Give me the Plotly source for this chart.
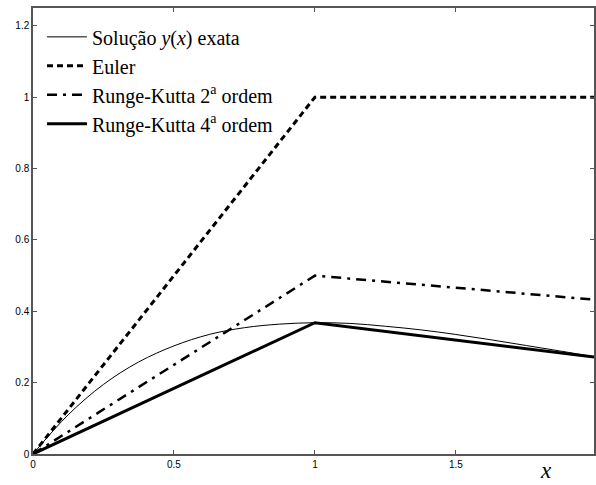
import plotly.graph_objects as go

# Grid of step h = 1 used by the numerical methods
x_steps = [0.0, 1.0, 2.0]
y_euler = [0.0, 1.0, 1.0]
y_rk2 = [0.0, 0.5, 0.432]
y_rk4 = [0.0, 0.368, 0.271]

# Exact solution sampled along the interval
x_exact = [0.0, 0.125, 0.25, 0.375, 0.5, 0.625, 0.75, 0.875, 1.0,
           1.125, 1.25, 1.375, 1.5, 1.625, 1.75, 1.875, 2.0]
y_exact = [0.0, 0.110, 0.195, 0.258, 0.303, 0.335, 0.354, 0.364, 0.368,
           0.366, 0.358, 0.348, 0.335, 0.320, 0.304, 0.288, 0.271]

x_ticks = [0, 0.5, 1, 1.5]
y_ticks = [0, 0.2, 0.4, 0.6, 0.8, 1, 1.2]

SERIF = "Liberation Serif"

fig = go.Figure()
fig.add_trace(go.Scatter(x=x_exact, y=y_exact, mode="lines", line_shape="spline",
                         name="Solução <i>y</i>(<i>x</i>) exata",
                         line=dict(color="black", width=1)))
fig.add_trace(go.Scatter(x=x_steps, y=y_euler, mode="lines", name="Euler",
                         line=dict(color="black", width=3, dash="6px,4px")))
fig.add_trace(go.Scatter(x=x_steps, y=y_rk2, mode="lines",
                         name="Runge-Kutta 2<sup>a</sup> ordem",
                         line=dict(color="black", width=2.5, dash="10px,6px,3px,6px")))
fig.add_trace(go.Scatter(x=x_steps, y=y_rk4, mode="lines",
                         name="Runge-Kutta 4<sup>a</sup> ordem",
                         line=dict(color="black", width=3)))

axis_common = dict(showgrid=False, zeroline=False, showline=True, mirror="ticks",
                   linecolor="#555", linewidth=1.5, ticks="inside", ticklen=4,
                   tickcolor="#555", tickfont=dict(family="Liberation Sans", size=10, color="black"))

fig.update_xaxes(range=[0, 1.99], tickvals=x_ticks, ticktext=["0", "0.5", "1", "1.5"], **axis_common)
fig.update_yaxes(range=[0, 1.25], tickvals=y_ticks, ticktext=["0", "0.2", "0.4", "0.6", "0.8", "1", "1.2"], **axis_common)

fig.add_annotation(text="<i>x</i>", xref="paper", yref="paper", x=0.915, y=-0.0695,
                   xanchor="center", yanchor="bottom", showarrow=False,
                   font=dict(family=SERIF, size=23, color="black"))

fig.update_layout(
    width=596, height=485,
    margin=dict(l=33, r=0, t=8, b=31),
    paper_bgcolor="white", plot_bgcolor="white",
    font=dict(family=SERIF),
    showlegend=True,
    legend=dict(x=0.016, y=0.979, xanchor="left", yanchor="top",
                bgcolor="rgba(0,0,0,0)", borderwidth=0,
                font=dict(family=SERIF, size=20, color="black"),
                itemwidth=40, tracegroupgap=0),
)

fig.write_html("out.html")
